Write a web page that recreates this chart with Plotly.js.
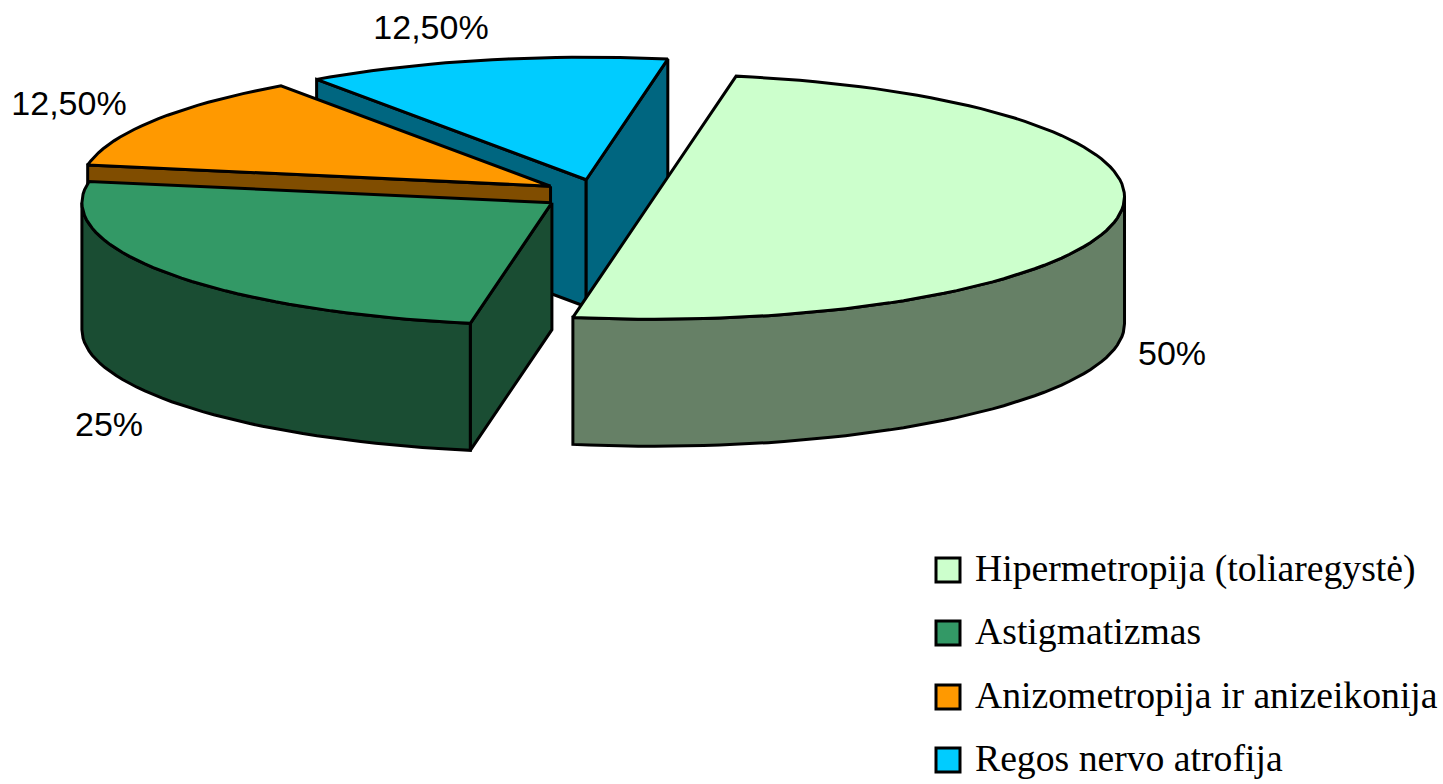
<!DOCTYPE html>
<html>
<head>
<meta charset="utf-8">
<script src="https://cdn.plot.ly/plotly-3.0.1.min.js"></script>
<style>html,body{margin:0;padding:0;background:#fff;overflow:hidden}#chart{width:1443px;height:784px}</style>
</head>
<body>
<div id="chart"></div>
<script>
// Data
const categories = ["Hipermetropija (toliaregystė)", "Astigmatizmas", "Anizometropija ir anizeikonija", "Regos nervo atrofija"];
const shares = [50, 25, 12.5, 12.5];
const shareLabels = ["50%", "25%", "12,50%", "12,50%"];
const topColors = ["#CCFFCC", "#339966", "#FF9900", "#00CCFF"];
const sideColors = ["#668066", "#1A4D33", "#804D00", "#006680"];

// Layout constants of the exploded 3D pie
const cx = 598.5, cy = 194.2, rx = 470, ry = 122.5, depth = 127, explode = 0.121, startAngle = 80;
const labelX = [1172, 109, 69, 431];
const labelY = [356, 427, 106, 30];
const legendSwatchX = 948, legendTextX = 975, legendY = [572, 635, 699, 762];
const legendMarkerY = [570, 633, 697, 760];

const rad = d => d * Math.PI / 180;
const total = shares.reduce((a, b) => a + b, 0);
let cursor = startAngle;
const slices = shares.map((v, i) => {
  const a0 = cursor, a1 = cursor - v / total * 360;
  cursor = a1;
  const mid = (a0 + a1) / 2;
  return {i, a0, a1, mid,
    ox: cx + rx * explode * Math.cos(rad(mid)),
    oy: cy - ry * explode * Math.sin(rad(mid))};
});
const pt = (s, a) => [s.ox + rx * Math.cos(rad(a)), s.oy - ry * Math.sin(rad(a))];

function poly(points, color) {
  return {type: "scatter", mode: "lines", x: points.map(p => p[0]), y: points.map(p => p[1]),
    fill: "toself", fillcolor: color, line: {color: "#000", width: 3}, hoverinfo: "skip", showlegend: false};
}
function arc(s, from, to) {
  const n = Math.max(2, Math.ceil(Math.abs(from - to) / 2)), pts = [];
  for (let k = 0; k <= n; k++) pts.push(pt(s, from + (to - from) * k / n));
  return pts;
}
function cutVisible(s, a) {
  const side = -Math.sin(rad(a)) * Math.cos(rad(s.mid)) + Math.cos(rad(a)) * Math.sin(rad(s.mid));
  return -Math.sign(side) * Math.cos(rad(a)) < 0;
}
function sliceTraces(s) {
  const out = [], side = sideColors[s.i];
  [s.a0, s.a1].forEach(a => {
    if (cutVisible(s, a)) {
      const e = pt(s, a);
      out.push(poly([[s.ox, s.oy], e, [e[0], e[1] + depth], [s.ox, s.oy + depth], [s.ox, s.oy]], side));
    }
  });
  // outer wall: the part of the rim facing the viewer (sin < 0)
  const lo = Math.max(s.a1, -180), hi = Math.min(s.a0, 0);
  if (hi > lo) {
    const rim = arc(s, hi, lo);
    const wall = rim.concat(rim.slice().reverse().map(p => [p[0], p[1] + depth]));
    wall.push(rim[0]);
    out.push(poly(wall, side));
  }
  const top = [[s.ox, s.oy]].concat(arc(s, s.a0, s.a1), [[s.ox, s.oy]]);
  out.push(poly(top, topColors[s.i]));
  return out;
}

// Painter's order: back slices first
const traces = [];
[3, 2, 1, 0].forEach(i => traces.push(...sliceTraces(slices[i])));

// Data labels
traces.push({type: "scatter", mode: "text", x: labelX, y: labelY, text: shareLabels,
  textposition: "middle center", textfont: {family: "Liberation Sans", size: 34, color: "#000"},
  hoverinfo: "skip", showlegend: false, cliponaxis: false});
// Legend swatches
traces.push({type: "scatter", mode: "markers", x: categories.map(() => legendSwatchX), y: legendMarkerY,
  marker: {symbol: "square", size: 24, color: topColors, line: {color: "#000", width: 3}},
  hoverinfo: "skip", showlegend: false, cliponaxis: false});
// Legend text
traces.push({type: "scatter", mode: "text", x: categories.map(() => legendTextX), y: legendY, text: categories,
  textposition: "middle right", textfont: {family: "Liberation Serif", size: 37.7, color: "#000"},
  hoverinfo: "skip", showlegend: false, cliponaxis: false});

const hiddenAxis = {visible: false, showgrid: false, zeroline: false, fixedrange: true};
Plotly.newPlot("chart", traces, {
  width: 1443, height: 784,
  margin: {l: 0, r: 0, t: 0, b: 0},
  paper_bgcolor: "#fff", plot_bgcolor: "#fff",
  showlegend: false,
  xaxis: Object.assign({range: [0, 1443]}, hiddenAxis),
  yaxis: Object.assign({range: [784, 0]}, hiddenAxis)
}, {displayModeBar: false, staticPlot: true});
</script>
</body>
</html>
